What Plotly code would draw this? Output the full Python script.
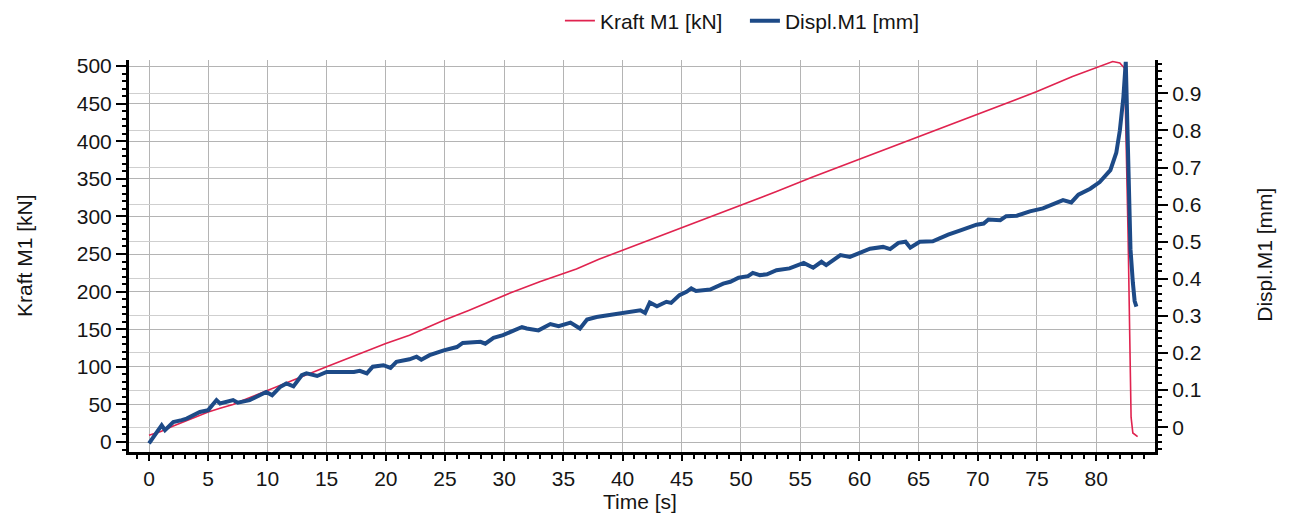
import plotly.graph_objects as go

# Kraft M1 [kN] vs time [s]
kraft_t = [0, 1, 2, 3.2, 4, 5, 6, 7.1, 8, 9, 10, 12, 15, 18, 20, 22, 24.9, 27, 30.5, 33,
           36.1, 38, 40, 42, 45, 48, 50, 53, 56, 60, 63, 66, 70, 73, 75, 78, 80.3, 81.4,
           82.0, 82.4, 82.7, 82.95, 83.1, 83.5]
kraft_v = [9, 14, 21, 29, 34, 40, 45, 50, 56, 62, 68, 81, 100, 119, 131, 142, 162, 175, 198, 213,
           230, 243, 255, 267, 284, 303, 314, 333, 352, 376, 395, 413, 436, 455, 466, 486, 499, 506,
           504, 497, 272, 33, 12, 7]

# Displ.M1 [mm] vs time [s]
displ_t = [0.0, 0.4, 1.07, 1.35, 2.05, 2.76, 3.18, 4.3, 5.0, 5.7, 6.0, 7.1, 7.5, 8.5, 9.4, 9.9,
           10.4, 11.1, 11.6, 12.2, 12.9, 13.3, 14.2, 15.0, 17.3, 17.8, 18.4, 18.9, 19.8, 20.4,
           20.9, 22.0, 22.6, 23.0, 23.7, 24.9, 26.0, 26.5, 28.0, 28.4, 29.1, 29.9, 31.5, 31.9,
           32.9, 33.9, 34.6, 35.6, 36.4, 37.0, 37.8, 38.9, 39.5, 40.3, 41.5, 41.9, 42.3, 42.9,
           43.7, 44.1, 44.8, 45.4, 45.8, 46.2, 47.4, 48.5, 49.1, 49.8, 50.6, 51.0, 51.6, 52.2,
           53.0, 54.1, 55.3, 56.1, 56.8, 57.2, 58.4, 59.2, 60.1, 60.9, 62.0, 62.6, 63.3, 63.9,
           64.3, 65.1, 66.2, 67.5, 68.6, 69.9, 70.5, 70.9, 71.9, 72.4, 73.3, 74.4, 75.5, 76.1,
           77.2, 77.9, 78.5, 79.5, 80.3, 81.2, 81.7, 82.0, 82.3, 82.5, 82.7, 82.9, 83.1, 83.25,
           83.4]
displ_v = [-0.044, -0.026, 0.005, -0.008, 0.014, 0.019, 0.023, 0.041, 0.046, 0.073, 0.064, 0.073,
           0.066, 0.073, 0.086, 0.095, 0.086, 0.109, 0.118, 0.110, 0.140, 0.145, 0.138, 0.149,
           0.149, 0.152, 0.145, 0.163, 0.167, 0.160, 0.176, 0.183, 0.190, 0.182, 0.194, 0.207,
           0.216, 0.227, 0.230, 0.225, 0.241, 0.248, 0.270, 0.266, 0.261, 0.278, 0.272, 0.282,
           0.266, 0.290, 0.297, 0.302, 0.306, 0.311, 0.315, 0.308, 0.336, 0.326, 0.338, 0.335,
           0.356, 0.365, 0.374, 0.367, 0.371, 0.387, 0.392, 0.403, 0.407, 0.416, 0.410, 0.412,
           0.423, 0.428, 0.443, 0.430, 0.446, 0.437, 0.464, 0.459, 0.470, 0.481, 0.486, 0.480,
           0.497, 0.500, 0.484, 0.500, 0.501, 0.519, 0.531, 0.546, 0.549, 0.560, 0.558, 0.569,
           0.570, 0.582, 0.590, 0.598, 0.612, 0.606, 0.627, 0.643, 0.661, 0.693, 0.740, 0.800,
           0.890, 0.985, 0.75, 0.48, 0.39, 0.34, 0.325]

x_ticks = [0, 5, 10, 15, 20, 25, 30, 35, 40, 45, 50, 55, 60, 65, 70, 75, 80]
y1_ticks = [0, 50, 100, 150, 200, 250, 300, 350, 400, 450, 500]
y2_ticks = [0, 0.1, 0.2, 0.3, 0.4, 0.5, 0.6, 0.7, 0.8, 0.9]

FONT = "Liberation Sans, Arial, sans-serif"
TXT = "#151515"
RED = "#e0234f"
BLUE = "#1d4a87"

fig = go.Figure()
fig.add_trace(go.Scatter(x=kraft_t, y=kraft_v, mode="lines", name="Kraft M1 [kN]",
                         line=dict(color=RED, width=1.6), yaxis="y"))
fig.add_trace(go.Scatter(x=displ_t, y=displ_v, mode="lines", name="Displ.M1 [mm]",
                         line=dict(color=BLUE, width=4), yaxis="y2"))

axis_common = dict(showline=True, linecolor="black", linewidth=3, ticks="outside",
                   tickcolor="black", tickwidth=1.5, zeroline=False,
                   tickfont=dict(family=FONT, size=21, color=TXT))

fig.update_layout(
    width=1289, height=514,
    margin=dict(l=129, r=134, t=60, b=62, autoexpand=False),
    paper_bgcolor="white", plot_bgcolor="white",
    font=dict(family=FONT, size=21, color=TXT),
    showlegend=True,
    legend=dict(orientation="h", x=0.42, xanchor="left", y=1.0995, yanchor="middle",
                entrywidth=140, entrywidthmode="pixels",
                font=dict(family=FONT, size=21, color=TXT), bgcolor="rgba(0,0,0,0)"),
    xaxis=dict(range=[-1.69, 84.97], tickvals=x_ticks, showgrid=True, ticklen=6,
               gridcolor="#b4b4b4", gridwidth=1,
               minor=dict(dtick=1, ticks="outside", ticklen=4, tickcolor="black", showgrid=False),
               **axis_common),
    yaxis=dict(range=[-13.3, 508], tickvals=y1_ticks, showgrid=True, ticklen=10,
               gridcolor="#b4b4b4", gridwidth=1,
               minor=dict(dtick=10, ticks="outside", ticklen=4, tickcolor="black", showgrid=False),
               **axis_common),
    yaxis2=dict(range=[-0.067, 0.99], tickvals=y2_ticks, overlaying="y", side="right",
                ticklen=10, showgrid=True, gridcolor="#cfcfcf", gridwidth=1,
                minor=dict(dtick=0.02, ticks="outside", ticklen=4, tickcolor="black", showgrid=False),
                **axis_common),
    annotations=[
        dict(text="Kraft M1 [kN]", xref="paper", yref="paper", x=-0.1014, y=0.5026,
             xanchor="center", yanchor="middle",
             textangle=-90, showarrow=False, font=dict(family=FONT, size=21, color=TXT)),
        dict(text="Displ.M1 [mm]", xref="paper", yref="paper", x=1.107, y=0.5026,
             xanchor="center", yanchor="middle",
             textangle=-90, showarrow=False, font=dict(family=FONT, size=21, color=TXT)),
        dict(text="Time [s]", xref="paper", yref="paper", x=0.498, y=-0.127,
             xanchor="center", yanchor="middle",
             showarrow=False, font=dict(family=FONT, size=21, color=TXT)),
    ],
)

fig.write_html("out.html")
